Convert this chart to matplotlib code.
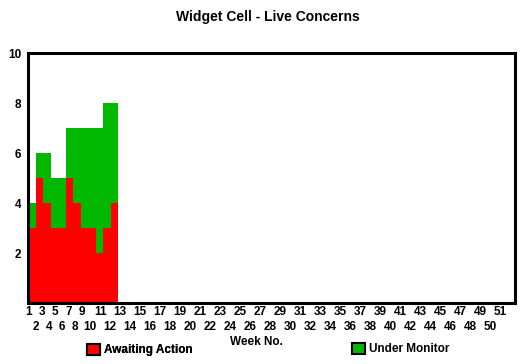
import matplotlib
matplotlib.use("Agg")
import matplotlib.pyplot as plt
from matplotlib.patches import Patch
import numpy as np

# ---- data ----
weeks = list(range(1, 52))
awaiting = [3, 5, 4, 3, 3, 5, 4, 3, 3, 2, 3, 4] + [0] * 39
monitor = [1, 1, 2, 2, 2, 2, 3, 4, 4, 5, 5, 4] + [0] * 39
y_ticks = [2, 4, 6, 8, 10]

title = "Widget Cell - Live Concerns"
xlabel = "Week No."
series_names = ["Awaiting Action", "Under Monitor"]
red = "#FF0000"
green = "#00B800"

plt.rcParams["font.family"] = ["Liberation Sans", "DejaVu Sans"]
plt.rcParams["font.weight"] = "bold"

W, H = 524, 364
fig = plt.figure(figsize=(W / 100, H / 100), dpi=100)
ax_l, ax_r, ax_t, ax_b = 28, 515, 53, 303
ax = fig.add_axes([ax_l / W, 1 - ax_b / H, (ax_r - ax_l) / W, (ax_b - ax_t) / H])

# x axis in pixel-like units across plot width
span = ax_r - ax_l
bar_w = 7.5
x = np.arange(len(weeks)) * bar_w
ax.bar(x, awaiting, width=bar_w, align="edge", color=red, linewidth=0)
ax.bar(x, monitor, width=bar_w, align="edge", bottom=awaiting, color=green, linewidth=0)

ax.set_xlim(0, span)
ax.set_ylim(0, 10)

# tick label layout: labels packed by text width
widths = [6.6 if w < 10 else 10.0 for w in weeks]
edges = np.concatenate([[-2.3], -2.3 + np.cumsum(widths)])
centers = (edges[:-1] + np.array(widths) / 2)
odd_idx = [i for i, w in enumerate(weeks) if w % 2 == 1]
even_idx = [i for i, w in enumerate(weeks) if w % 2 == 0]
ax.set_xticks([centers[i] for i in odd_idx], [str(weeks[i]) for i in odd_idx])
ax.set_xticks([centers[i] for i in even_idx], [str(weeks[i]) for i in even_idx], minor=True)
ax.tick_params(axis="x", which="major", length=0, pad=2, labelsize=8.5)
ax.tick_params(axis="x", which="minor", length=0, pad=13, labelsize=8.5)

ax.set_yticks(y_ticks, [str(v) for v in y_ticks])
ax.tick_params(axis="y", length=0, pad=5, labelsize=8.5)

for s in ax.spines.values():
    s.set_linewidth(2.2)
    s.set_color("black")

fig.text(268 / W, 1 - 17 / H, title, ha="center", va="center", fontsize=10, fontweight="bold")
fig.text(256 / W, 1 - 342 / H, xlabel, ha="center", va="center", fontsize=8.5, fontweight="bold")

leg1 = fig.legend(handles=[Patch(facecolor=red, edgecolor="black", linewidth=1.5)],
                  labels=[series_names[0]], loc="center left",
                  bbox_to_anchor=(81 / W, 1 - 350 / H), frameon=False, fontsize=8.5,
                  handlelength=1.1, handleheight=1.1, handletextpad=0.35, borderpad=0)
leg2 = fig.legend(handles=[Patch(facecolor=green, edgecolor="black", linewidth=1.5)],
                  labels=[series_names[1]], loc="center left",
                  bbox_to_anchor=(346 / W, 1 - 349 / H), frameon=False, fontsize=8.5,
                  handlelength=1.1, handleheight=1.1, handletextpad=0.35, borderpad=0)
fig.add_artist(leg1)

fig.savefig("out.png", dpi=100)
